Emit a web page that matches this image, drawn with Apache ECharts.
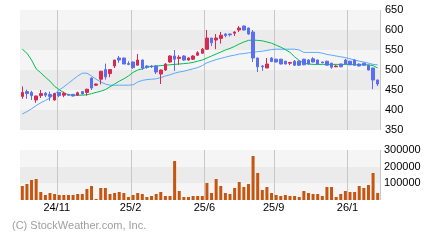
<!DOCTYPE html>
<html>
<head>
<meta charset="utf-8">
<script src="https://cdn.jsdelivr.net/npm/echarts@6/dist/echarts.min.js"></script>
<style>
html,body{margin:0;padding:0;background:#fff;}
#c{width:440px;height:240px;}
</style>
</head>
<body>
<div id="c"></div>
<script>
// weekly candles: open, close, low, high
const openP  = [434,446,444,425,436,442,439,425,444,437,439,439,437,446,444,480,462,477,501,491,510,530,530,516,520,512,525,510,510,510,490,500,520,535,529,535,525,527,537,542,552,580,575,579,590,590,592,600,610,605,595,530,510,505,530,527,527,522,517,522,522,527,525,528,525,520,522,517,508,515,525,522,525,515,517,512,505,475];
const closeP = [444,441,436,435,441,437,434,441,436,442,437,435,443,440,452,455,465,497,483,501,525,525,515,514,506,525,505,507,508,495,500,515,535,527,532,525,530,535,543,552,580,568,580,587,586,588,595,605,600,590,530,508,508,515,521,520,515,515,519,512,512,513,515,520,515,518,512,507,510,508,515,513,512,510,512,500,475,465];
const lowP   = [428,428,425,418,430,432,423,423,432,432,436,434,435,439,436,450,460,464,476,482,505,518,515,512,503,512,500,503,505,490,465,498,518,498,513,523,523,525,535,540,550,560,552,566,582,584,585,595,599,588,520,495,498,505,520,519,514,514,512,510,510,512,514,519,514,517,511,503,507,507,514,512,511,509,511,499,452,460];
const highP  = [459,451,448,436,450,445,446,443,445,446,440,440,446,447,453,481,466,497,516,501,525,535,531,522,521,540,526,512,512,512,501,517,537,550,537,537,532,537,547,555,600,580,590,595,592,591,597,610,611,606,600,531,512,530,532,528,528,523,520,525,524,528,527,532,526,521,523,518,512,516,528,523,526,516,518,513,506,476];
const volume = [84000,96000,120000,126000,48000,30000,42000,36000,30000,30000,30000,30000,36000,36000,66000,84000,6000,72000,72000,36000,42000,48000,42000,18000,30000,42000,36000,18000,24000,36000,48000,24000,24000,234000,54000,18000,18000,24000,24000,24000,102000,42000,126000,84000,42000,36000,72000,108000,78000,96000,264000,162000,60000,78000,42000,30000,24000,30000,24000,24000,18000,54000,42000,36000,36000,24000,78000,78000,18000,36000,54000,48000,48000,84000,72000,90000,162000,42000];
const maShort = [552,542,525,503,493,482,472,459,451,443,438,437,437,437,438,441,444,447,451,458,465,472,478,485,494,500,503,507,509,510,511,512,513,514,515,516,517,519,522,525,530,535,540,545,550,554,559,565,570,574,575,574,573,570,567,562,557,551,544,533,524,517,515,514,514,514,514,514,514,514,514,514,513,513,513,513,511,505];
const maLong  = [390,396,403,411,418,424,430,440,450,458,467,476,485,492,492,485,477,470,465,462,462,462,462,462,463,470,474,476,477,478,481,485,488,492,495,497,500,503,506,511,518,522,526,529,532,535,537,540,541,543,544,546,547,549,551,552,552,552,552,552,550,544,544,544,544,542,539,537,535,533,531,528,525,522,520,517,514,513];
const tickIndex  = [8,24,40,55,71];
const tickLabels = ['24/11','25/2','25/6','25/9','26/1'];
const priceTicks = [350,400,450,500,550,600,650];
const volumeTicks = [0,100000,200000,300000];

const categories = openP.map((_, i) => 'w' + i);
const candleData = openP.map((o, i) => [o, closeP[i], lowP[i], highP[i]]);

const UP = '#d62a50', DOWN = '#5a6ef2';
const font = "'Liberation Sans', Arial, sans-serif";

const chart = echarts.init(document.getElementById('c'), null, {renderer: 'canvas'});
const isTick = (idx) => tickIndex.indexOf(idx) >= 0;

chart.setOption({
  animation: false,
  backgroundColor: '#ffffff',
  textStyle: {fontFamily: font},
  grid: [
    {left: 20, right: 60, top: 10, height: 120},
    {left: 20, right: 60, top: 150, height: 50}
  ],
  xAxis: [
    {type: 'category', gridIndex: 0, data: categories, boundaryGap: true,
     axisLine: {show: false}, axisTick: {show: false}, axisLabel: {show: false},
     splitLine: {show: true, interval: (idx) => isTick(idx), lineStyle: {color: '#c8c8c8', width: 1}}},
    {type: 'category', gridIndex: 1, data: categories, boundaryGap: true,
     axisLine: {show: false}, axisTick: {show: false},
     axisLabel: {show: true, interval: (idx) => isTick(idx),
       formatter: (v, idx) => tickLabels[tickIndex.indexOf(idx)] || '',
       color: '#000', fontSize: 11, fontFamily: font, margin: 2, padding: [0, 5, 0, 0]},
     splitLine: {show: true, interval: (idx) => isTick(idx), lineStyle: {color: '#c8c8c8', width: 1}}}
  ],
  yAxis: [
    {type: 'value', gridIndex: 0, position: 'right', min: priceTicks[0], max: priceTicks[priceTicks.length-1], interval: 50,
     axisLine: {show: false}, axisTick: {show: false}, splitLine: {show: false},
     splitArea: {show: true, areaStyle: {color: ['#ebebeb', '#f5f5f5']}},
     axisLabel: {color: '#000', fontSize: 11, fontFamily: font, margin: 5}},
    {type: 'value', gridIndex: 1, position: 'right', min: volumeTicks[0], max: volumeTicks[volumeTicks.length-1], interval: 100000,
     axisLine: {show: false}, axisTick: {show: false}, splitLine: {show: false},
     splitArea: {show: true, areaStyle: {color: ['#f5f5f5', '#ebebeb']}},
     axisLabel: {color: '#000', fontSize: 11, fontFamily: font, margin: 4,
       formatter: (v) => v === 0 ? '' : String(v)}}
  ],
  series: [
    {type: 'line', xAxisIndex: 0, yAxisIndex: 0, data: maLong, symbol: 'none',
     lineStyle: {color: '#5aaaff', width: 1}, z: 2},
    {type: 'line', xAxisIndex: 0, yAxisIndex: 0, data: maShort, symbol: 'none',
     lineStyle: {color: '#00c050', width: 1}, z: 2},
    {type: 'candlestick', xAxisIndex: 0, yAxisIndex: 0, data: candleData, barWidth: 3,
     itemStyle: {color: UP, color0: DOWN, borderColor: UP, borderColor0: DOWN, borderWidth: 1}, z: 3},
    {type: 'bar', xAxisIndex: 1, yAxisIndex: 1, data: volume, barWidth: 3,
     itemStyle: {color: '#c8550f'}}
  ],
  graphic: [
    {type: 'text', left: 12, top: 220,
     style: {text: '(C) StockWeather.com, Inc.', fill: '#a0a0a0', font: "11px 'Liberation Sans', Arial, sans-serif"}}
  ]
});
</script>
</body>
</html>
